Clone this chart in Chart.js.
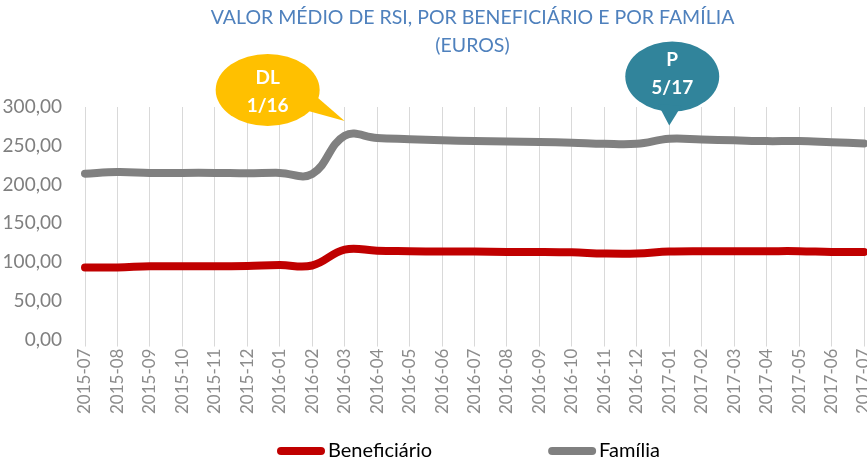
<!DOCTYPE html>
<html>
<head>
<meta charset="utf-8">
<script src="https://cdn.jsdelivr.net/npm/chart.js@4"></script>
<style>
  html, body { margin: 0; padding: 0; background: #ffffff; }
  #wrap { width: 867px; height: 463px; position: relative; }
</style>
</head>
<body>
<div id="wrap"><canvas id="grafico"></canvas></div>
<script>
'use strict';

// ─── Datos ───────────────────────────────────────────────────────────────────

const meses = [
  '2015-07','2015-08','2015-09','2015-10','2015-11','2015-12',
  '2016-01','2016-02','2016-03','2016-04','2016-05','2016-06',
  '2016-07','2016-08','2016-09','2016-10','2016-11','2016-12',
  '2017-01','2017-02','2017-03','2017-04','2017-05','2017-06','2017-07',
];

const beneficiario = [
  93, 93, 94.5, 94.5, 94.5, 95,
  96, 95.5, 116, 114.5, 114, 113.5,
  113.5, 113, 113, 112.5, 111, 111,
  113.5, 114, 114, 114, 114, 113, 113,
];

const familia = [
  214, 216, 215, 215, 215, 214.5,
  215, 213.5, 263, 260, 258.5, 257,
  256, 255.5, 255, 254, 252.5, 252.5,
  259, 258, 257, 256, 256, 254.5, 253,
];

const titulo = ['VALOR MÉDIO DE RSI, POR BENEFICIÁRIO E POR FAMÍLIA', '(EUROS)'];

// Llamadas: texto, mes al que apunta y valor de la punta
const llamadas = [
  { lineas: ['DL', '1/16'], mes: '2016-03', valor: 282 },
  { lineas: ['P', '5/17'],  mes: '2017-01', valor: 276 },
];

// Estilo de cada llamada (mismo orden)
const estiloLlamadas = [
  { color: '#FFC000', dx: -77, dy: -31, rx: 52, ry: 36, t1: -12, t2: 16 },
  { color: '#31849B', dx: 3,   dy: -49, rx: 47, ry: 35, t1: -17, t2: 11 },
];

// ─── Colores ─────────────────────────────────────────────────────────────────

const C = {
  rojo:  '#C00000',
  gris:  '#808080',
  grid:  '#D9D9D9',
  texto: '#7F7F7F',
  textoX: '#8C8C8C',
  titulo: '#4F81BD',
};

const FONT = "Lato, 'Open Sans', sans-serif";

// ─── Titulo centrado sobre el area de la grafica ─────────────────────────────

const pluginTitulo = {
  id: 'tituloPropio',
  afterDraw(chart) {
    const ctx = chart.ctx;
    const area = chart.chartArea;
    const cx = (area.left + area.right) / 2 - 2;
    ctx.save();
    ctx.fillStyle = C.titulo;
    ctx.font = "19.5px " + FONT;
    ctx.textAlign = 'center';
    ctx.textBaseline = 'middle';
    ctx.fillText(titulo[0], cx, 18);
    ctx.fillText(titulo[1], cx, 46);
    ctx.restore();
  },
};

// ─── Plugin de llamadas (globos) ─────────────────────────────────────────────

const pluginLlamadas = {
  id: 'llamadas',
  afterDraw(chart) {
    const ctx = chart.ctx;
    const x = chart.scales.x;
    const y = chart.scales.y;
    llamadas.forEach(function(l, i) {
      const e = estiloLlamadas[i];
      const tx = x.getPixelForValue(meses.indexOf(l.mes));
      const ty = y.getPixelForValue(l.valor);
      const cx = tx + e.dx;
      const cy = ty + e.dy;
      ctx.save();
      ctx.fillStyle = e.color;
      ctx.beginPath();
      ctx.ellipse(cx, cy, e.rx, e.ry, 0, 0, Math.PI * 2);
      ctx.fill();
      // Cola
      const ang = Math.atan2(ty - cy, tx - cx);
      const a1 = ang - 0.3, a2 = ang + 0.3;
      ctx.beginPath();
      ctx.moveTo(cx + e.rx * 0.85 * Math.cos(a1), cy + e.ry * 0.85 * Math.sin(a1));
      ctx.lineTo(tx, ty);
      ctx.lineTo(cx + e.rx * 0.85 * Math.cos(a2), cy + e.ry * 0.85 * Math.sin(a2));
      ctx.closePath();
      ctx.fill();
      // Texto
      ctx.fillStyle = '#FFFFFF';
      ctx.font = "bold 19px " + FONT;
      ctx.textAlign = 'center';
      ctx.textBaseline = 'middle';
      ctx.fillText(l.lineas[0], cx, cy + e.t1);
      ctx.fillText(l.lineas[1], cx, cy + e.t2);
      ctx.restore();
    });
  },
};

// ─── Leyenda propia (linea gruesa + texto pegado) ────────────────────────────

const pluginLeyenda = {
  id: 'leyendaPropia',
  afterDraw(chart) {
    const ctx = chart.ctx;
    const area = chart.chartArea;
    const sets = chart.data.datasets;
    const marca = 48, hueco = 3, separacion = 116;
    const yc = 451;
    ctx.save();
    ctx.font = "20px " + FONT;
    ctx.textBaseline = 'middle';
    ctx.textAlign = 'left';
    const anchos = sets.map(function(ds) { return marca + hueco + ctx.measureText(ds.label).width; });
    const total = anchos.reduce(function(a, b) { return a + b; }, 0) + separacion * (sets.length - 1);
    let x0 = (area.left + area.right) / 2 - 6 - total / 2;
    sets.forEach(function(ds, i) {
      ctx.strokeStyle = ds.borderColor;
      ctx.lineWidth = 8;
      ctx.lineCap = 'round';
      ctx.beginPath();
      ctx.moveTo(x0 + 4, yc);
      ctx.lineTo(x0 + marca - 4, yc);
      ctx.stroke();
      ctx.fillStyle = '#000000';
      ctx.fillText(ds.label, x0 + marca + hueco, yc);
      x0 += anchos[i] + separacion;
    });
    ctx.restore();
  },
};

// ─── Grafica ─────────────────────────────────────────────────────────────────

function fmtEuro(v) {
  return Number(v).toFixed(2).replace('.', ',');
}

function initChart() {
  new Chart(document.getElementById('grafico').getContext('2d'), {
    type: 'line',
    data: {
      labels: meses,
      datasets: [
        {
          label: 'Beneficiário',
          data: beneficiario,
          borderColor: C.rojo,
          backgroundColor: C.rojo,
          borderWidth: 8,
          pointRadius: 0,
          tension: 0.4,
          borderCapStyle: 'round',
          borderJoinStyle: 'round',
        },
        {
          label: 'Família',
          data: familia,
          borderColor: C.gris,
          backgroundColor: C.gris,
          borderWidth: 8,
          pointRadius: 0,
          tension: 0.4,
          borderCapStyle: 'round',
          borderJoinStyle: 'round',
        },
      ],
    },
    options: {
      responsive: true,
      maintainAspectRatio: false,
      animation: false,
      layout: { padding: { top: 107, right: 3, left: 0, bottom: 47 } },
      plugins: {
        title: { display: false },
        legend: { display: false },
        tooltip: { enabled: false },
      },
      scales: {
        x: {
          offset: false,
          afterFit(scale) { scale.paddingRight = 0; },
          grid: { color: C.grid, lineWidth: 1, drawTicks: true, tickLength: 7 },
          border: { display: false },
          ticks: {
            color: C.textoX,
            font: { family: FONT, size: 17 },
            minRotation: 90,
            maxRotation: 90,
            autoSkip: false,
            padding: 2,
          },
        },
        y: {
          min: 0,
          max: 300,
          afterFit(scale) { scale.width = 85; },
          grid: { display: false },
          border: { display: false },
          ticks: {
            stepSize: 50,
            color: C.texto,
            font: { family: FONT, size: 19 },
            padding: 15,
            callback: fmtEuro,
          },
        },
      },
    },
    plugins: [pluginTitulo, pluginLlamadas, pluginLeyenda],
  });
}

document.addEventListener('DOMContentLoaded', initChart);
</script>
</body>
</html>
